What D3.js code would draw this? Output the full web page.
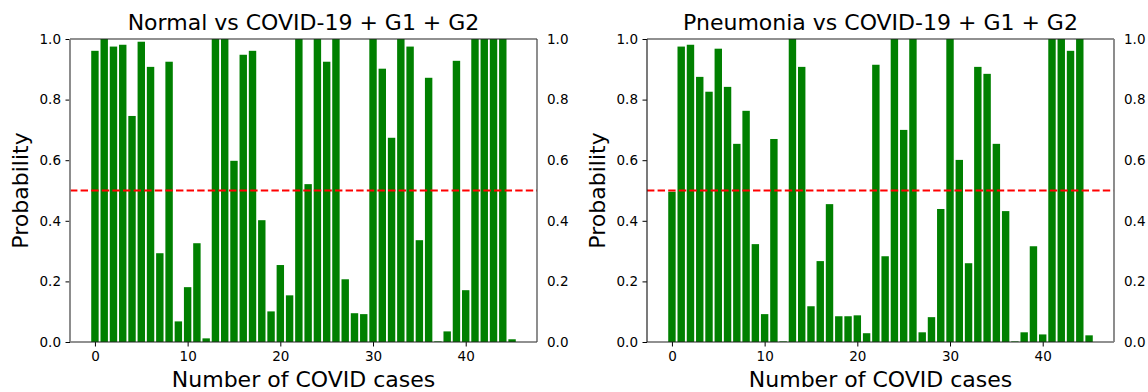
<!DOCTYPE html>
<html>
<head>
<meta charset="utf-8">
<script src="https://cdn.jsdelivr.net/npm/d3@7"></script>
<style>
  html, body { margin: 0; padding: 0; background: #fff; }
  svg { display: block; font-family: "DejaVu Sans", sans-serif; }
  .tick text { font-size: 13.5px; fill: #000; }
</style>
</head>
<body>
<svg id="chart" width="1148" height="392"></svg>
<script>
// probabilities, one bar per COVID case (index = case number)
const normalProb = [
  0.961, 1.0, 0.975, 0.981, 0.746, 0.991, 0.908, 0.293, 0.925, 0.068,
  0.181, 0.326, 0.012, 1.0, 1.0, 0.598, 0.948, 0.961, 0.402, 0.101,
  0.254, 0.154, 1.0, 0.521, 1.0, 0.925, 1.0, 0.207, 0.095, 0.092,
  1.0, 0.902, 0.674, 1.0, 0.975, 0.336, 0.872, 0.002, 0.035, 0.928,
  0.171, 1.0, 1.0, 1.0, 1.0, 0.009
];
const pneumoniaProb = [
  0.496, 0.975, 0.981, 0.875, 0.826, 0.968, 0.842, 0.654, 0.763, 0.323,
  0.092, 0.670, 0.002, 1.0, 0.908, 0.118, 0.267, 0.455, 0.085, 0.085,
  0.088, 0.029, 0.915, 0.283, 1.0, 0.700, 1.0, 0.032, 0.082, 0.439,
  1.0, 0.601, 0.260, 0.908, 0.885, 0.654, 0.432, 0.002, 0.032, 0.316,
  0.025, 1.0, 1.0, 0.961, 1.0, 0.022
];
const titles = ['Normal vs COVID-19 + G1 + G2', 'Pneumonia vs COVID-19 + G1 + G2'];
const xTicks = [0, 10, 20, 30, 40];
const yTicks = [0.0, 0.2, 0.4, 0.6, 0.8, 1.0];
const threshold = 0.5;

const panels = [
  { title: titles[0], values: normalProb, left: 70, grayLeft: true },
  { title: titles[1], values: pneumoniaProb, left: 647, grayLeft: false }
];

const plotW = 467, plotTop = 39, plotH = 303;
const barW = 0.8;
const svg = d3.select('#chart');

panels.forEach(p => {
  const n = p.values.length;
  const lo = -barW / 2, hi = n - 1 + barW / 2;
  const pad = (hi - lo) * 0.05;
  const x = d3.scaleLinear().domain([lo - pad, hi + pad]).range([0, plotW]);
  const y = d3.scaleLinear().domain([0, 1]).range([plotH, 0]);

  const g = svg.append('g').attr('transform', `translate(${p.left},${plotTop})`);

  g.append('g').selectAll('rect').data(p.values).enter().append('rect')
    .attr('x', (d, i) => x(i - barW / 2))
    .attr('width', (d, i) => x(i + barW / 2) - x(i - barW / 2))
    .attr('y', d => y(d))
    .attr('height', d => y(0) - y(d))
    .attr('fill', '#008000');

  g.append('line')
    .attr('x1', 0).attr('x2', plotW)
    .attr('y1', y(threshold)).attr('y2', y(threshold))
    .attr('stroke', '#ff0000').attr('stroke-width', 2)
    .attr('stroke-dasharray', '7.4,3.2');

  // axes
  const xAxis = g.append('g').attr('transform', `translate(0,${plotH})`)
    .call(d3.axisBottom(x).tickValues(xTicks).tickFormat(d3.format('d')).tickSize(4.5).tickPadding(4.5).tickSizeOuter(0));
  const yLeft = g.append('g')
    .call(d3.axisLeft(y).tickValues(yTicks).tickFormat(d3.format('.1f')).tickSize(4.5).tickPadding(4.5).tickSizeOuter(0));
  const yRight = g.append('g').attr('transform', `translate(${plotW},0)`)
    .call(d3.axisRight(y).tickValues(yTicks).tickFormat(d3.format('.1f')).tickSize(0).tickPadding(10).tickSizeOuter(0));

  [xAxis, yLeft, yRight].forEach(a => {
    a.select('.domain').remove();
    a.selectAll('.tick line').attr('stroke', '#000').attr('stroke-width', 1);
    a.selectAll('.tick text').attr('font-family', '"DejaVu Sans", sans-serif').attr('font-size', 13.5);
  });
  yRight.selectAll('.tick line').remove();

  // spines
  const spine = (x1, y1, x2, y2, c, w) => g.append('line')
    .attr('x1', x1).attr('y1', y1).attr('x2', x2).attr('y2', y2)
    .attr('stroke', c).attr('stroke-width', w);
  spine(0, 0, plotW, 0, '#222', 1.2);
  spine(0, plotH, plotW, plotH, '#222', 1.2);
  spine(0, 0, 0, plotH, p.grayLeft ? '#808080' : '#222', p.grayLeft ? 1.8 : 1.2);
  spine(plotW, 0, plotW, plotH, p.grayLeft ? '#444' : '#808080', p.grayLeft ? 1.2 : 1.8);

  g.append('text')
    .attr('x', plotW / 2).attr('y', -9)
    .attr('text-anchor', 'middle')
    .attr('font-size', 22).attr('fill', '#000')
    .text(p.title);

  g.append('text')
    .attr('x', plotW / 2).attr('y', plotH + 45)
    .attr('text-anchor', 'middle')
    .attr('font-size', 22).attr('fill', '#000')
    .text('Number of COVID cases');

  g.append('text')
    .attr('transform', `translate(-42,${plotH / 2}) rotate(-90)`)
    .attr('text-anchor', 'middle')
    .attr('font-size', 22).attr('fill', '#000')
    .text('Probability');
});
</script>
</body>
</html>
